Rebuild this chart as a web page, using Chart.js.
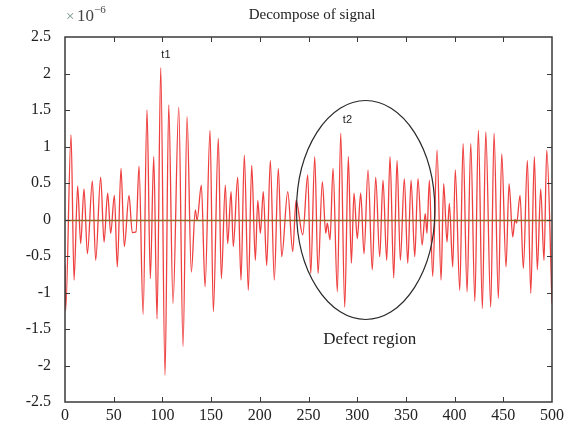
<!DOCTYPE html>
<html lang="en">
<head>
<meta charset="UTF-8">
<title>Decompose of signal</title>
<script src="https://cdn.jsdelivr.net/npm/chart.js@4.4.1/dist/chart.umd.min.js"></script>
<style>
    html, body { margin: 0; padding: 0; background: #fff; }
    #signalChart { display: block; }
</style>
</head>
<body>
<canvas id="signalChart" width="571" height="432"></canvas>
<script>
// 샘플 위치 (극값 지점)
const sampleIdx = [
    0, 0.7, 6.2, 9.3, 13.0, 16.1, 19.5, 23.0, 28.1, 31.5, 36.6, 40.1, 43.8, 46.9, 50.7, 53.7,
    57.5, 60.9, 65.7, 69.1, 72.9, 76.0, 80.2, 84.2, 87.6, 91.1, 94.5, 98.3, 102.7, 106.5, 110.9,
    116.8, 121.2, 125.3, 129.7, 133.8, 135.6, 140.0, 143.8, 148.9, 152.3, 157.4, 160.5, 164.6,
    167.0, 170.5, 172.8, 177.3, 180.7, 184.1, 188.2, 191.7, 195.4, 197.9, 200.6, 203.6, 207.1,
    210.8, 214.9, 219.0, 222.5, 228.7, 233.8, 237.2, 244.1, 249.2, 252.3, 256.4, 259.8, 264.2,
    267.7, 269.3, 272.1, 275.2, 279.6, 283.1, 287.2, 290.9, 294.0, 296.7, 300.1, 303.6, 307.0,
    311.1, 315.5, 319.0, 323.1, 326.5, 330.3, 333.7, 337.5, 340.9, 344.3, 348.4, 351.9, 355.3,
    359.1, 362.4, 366.6, 369.9, 371.6, 374.1, 377.5, 382.0, 386.1, 388.8, 392.2, 394.6, 398.1,
    400.7, 405.3, 408.7, 412.8, 416.6, 420.8, 424.4, 428.5, 432.0, 437.1, 440.5, 444.9, 448.4,
    452.8, 455.9, 459.7, 462.0, 463.7, 467.2, 470.6, 474.7, 478.2, 481.9, 484.9, 488.4, 491.8,
    494.6, 500
];
// 진폭 (x 10^-6)
const amplitude = [
    -0.62, -1.24, 1.16, -0.83, 0.46, -0.33, 0.42, -0.47, 0.53, -0.56, 0.58, -0.31, 0.36, -0.19, 0.33, -0.65,
    0.70, -0.37, 0.33, -0.18, -0.17, 0.73, -1.30, 1.50, -0.81, 0.86, -1.36, 2.08, -2.13, 1.57, -1.15,
    1.54, -1.74, 1.41, -0.72, 0.13, -0.01, 0.47, -0.92, 1.22, -1.26, 1.11, -0.81, 0.47,
    -0.33, 0.38, -0.37, 0.58, -0.83, 0.88, -0.97, 0.74, -0.56, 0.26, -0.19, 0.38, -0.63,
    0.81, -0.83, 0.70, -0.51, 0.38, -0.44, 0.26, -0.21, 0.61, -0.74, 0.86, -0.74, 0.52,
    -0.19, -0.05, -0.28, 0.70, -0.99, 1.18, -1.20, 0.86, -0.60, 0.36, -0.26, 0.36, -0.47,
    0.68, -0.69, 0.58, -0.51, 0.54, -0.56, 0.86, -0.80, 0.81, -0.56, 0.56, -0.60, 0.54,
    -0.51, 0.56, -0.35, 0.08, -0.19, 0.54, -0.78, 0.95, -0.83, 0.49, -0.31, 0.22, -0.65,
    0.68, -0.97, 1.04, -0.99, 1.04, -1.12, 1.22, -1.22, 1.20, -1.20, 1.18, -1.08, 0.90,
    -0.65, 0.49, -0.24, 0.00, -0.05, 0.33, -0.67, 0.81, -1.01, 0.86, -0.69, 0.42, -0.56,
    0.95, -1.15
];

// 축 눈금
const xTickValues = [0, 50, 100, 150, 200, 250, 300, 350, 400, 450, 500];
const yTickValues = [-2.5, -2, -1.5, -1, -0.5, 0, 0.5, 1, 1.5, 2, 2.5];

// 주석 텍스트
const peakLabels = ['t1', 't2'];
const regionLabel = 'Defect region';

const SERIF = '"Liberation Serif", "Times New Roman", serif';

// 제목, 테두리, 안쪽 눈금, 결함 영역 타원
const framePlugin = {
    id: 'frame',
    afterDatasetsDraw(chart) {
        const { ctx, chartArea: a, scales: { x, y } } = chart;
        ctx.save();

        // 0 기준선
        const y0 = Math.round(y.getPixelForValue(0)) + 0.5;
        ctx.strokeStyle = '#8a6c28';
        ctx.lineWidth = 1.5;
        ctx.beginPath();
        ctx.moveTo(a.left, y0);
        ctx.lineTo(a.right, y0);
        ctx.stroke();

        // 결함 영역 타원
        const cx = x.getPixelForValue(308.7);
        const cy = y.getPixelForValue(0.13);
        const rx = x.getPixelForValue(308.7 + 71) - cx;
        const ry = cy - y.getPixelForValue(0.13 + 1.5);
        ctx.strokeStyle = '#2a2a2a';
        ctx.lineWidth = 1.2;
        ctx.beginPath();
        ctx.ellipse(cx, cy, rx, ry, 0, 0, Math.PI * 2);
        ctx.stroke();

        // 피크 라벨
        ctx.fillStyle = '#222';
        ctx.font = '11px "Liberation Sans", Arial, sans-serif';
        ctx.textAlign = 'center';
        ctx.textBaseline = 'middle';
        ctx.fillText(peakLabels[0], x.getPixelForValue(103.6), y.getPixelForValue(2.25));
        ctx.fillText(peakLabels[1], x.getPixelForValue(290), y.getPixelForValue(1.37));

        ctx.font = '17px ' + SERIF;
        ctx.fillText(regionLabel, x.getPixelForValue(312.8), y.getPixelForValue(-1.65));

        // 테두리
        ctx.strokeStyle = '#3a3a3a';
        ctx.lineWidth = 1.5;
        ctx.strokeRect(a.left, a.top, a.right - a.left, a.bottom - a.top);

        // 안쪽 눈금
        ctx.lineWidth = 1;
        ctx.beginPath();
        xTickValues.slice(1, -1).forEach(v => {
            const px = Math.round(x.getPixelForValue(v)) + 0.5;
            ctx.moveTo(px, a.top);
            ctx.lineTo(px, a.top + 5);
            ctx.moveTo(px, a.bottom);
            ctx.lineTo(px, a.bottom - 5);
        });
        yTickValues.slice(1, -1).forEach(v => {
            const py = Math.round(y.getPixelForValue(v)) + 0.5;
            ctx.moveTo(a.left, py);
            ctx.lineTo(a.left + 5, py);
            ctx.moveTo(a.right, py);
            ctx.lineTo(a.right - 5, py);
        });
        ctx.stroke();
        ctx.restore();
    },
    afterDraw(chart) {
        const { ctx, chartArea: a } = chart;
        ctx.save();
        ctx.textBaseline = 'alphabetic';

        // 제목
        ctx.fillStyle = '#222';
        ctx.font = '15px ' + SERIF;
        ctx.textAlign = 'center';
        ctx.fillText('Decompose of signal', 312, 19);

        // 지수 표기
        ctx.textAlign = 'left';
        ctx.font = '15px ' + SERIF;
        ctx.fillStyle = '#6f8f8c';
        ctx.fillText('\u00d7', a.left + 1, 21);
        ctx.fillStyle = '#444';
        ctx.font = '17px ' + SERIF;
        ctx.fillText('10', a.left + 12, 21);
        ctx.font = '11px ' + SERIF;
        ctx.fillText('\u22126', a.left + 29, 13);
        ctx.restore();
    }
};

document.addEventListener('DOMContentLoaded', function() {
    const ctx = document.getElementById('signalChart');
    const points = sampleIdx.map((t, i) => ({ x: t, y: amplitude[i] }));

    new Chart(ctx, {
        type: 'scatter',
        data: {
            datasets: [{
                label: 'signal',
                data: points,
                showLine: true,
                borderColor: 'rgba(236, 30, 30, 0.85)',
                borderWidth: 1.3,
                pointRadius: 0,
                cubicInterpolationMode: 'monotone'
            }]
        },
        options: {
            responsive: false,
            animation: false,
            devicePixelRatio: 1,
            layout: {
                padding: { top: 37, right: 19, bottom: 0, left: 0 }
            },
            plugins: {
                legend: { display: false },
                tooltip: { enabled: false },
                title: { display: false }
            },
            scales: {
                x: {
                    type: 'linear',
                    min: 0,
                    max: 500,
                    afterBuildTicks: function(scale) {
                        scale.ticks = xTickValues.map(v => ({ value: v }));
                    },
                    afterFit: function(scale) {
                        scale.height = 30;
                    },
                    grid: { display: false, drawTicks: false },
                    border: { display: false },
                    ticks: {
                        padding: 4,
                        color: '#222',
                        autoSkip: false,
                        maxRotation: 0,
                        font: { family: SERIF, size: 16 },
                        callback: function(value) {
                            return String(value);
                        }
                    }
                },
                y: {
                    type: 'linear',
                    min: -2.5,
                    max: 2.5,
                    afterBuildTicks: function(scale) {
                        scale.ticks = yTickValues.map(v => ({ value: v }));
                    },
                    afterFit: function(scale) {
                        scale.width = 65;
                    },
                    grid: { display: false, drawTicks: false },
                    border: { display: false },
                    ticks: {
                        padding: 14,
                        color: '#222',
                        autoSkip: false,
                        font: { family: SERIF, size: 16 },
                        callback: function(value) {
                            return String(value);
                        }
                    }
                }
            }
        },
        plugins: [framePlugin]
    });
});
</script>
</body>
</html>
